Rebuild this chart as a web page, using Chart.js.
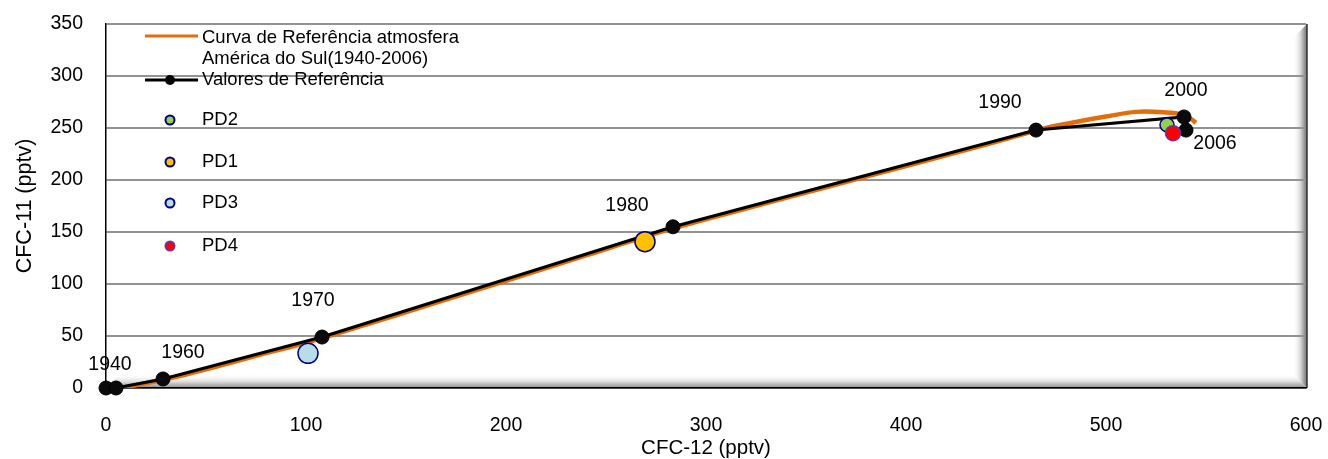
<!DOCTYPE html>
<html>
<head>
<meta charset="utf-8">
<script src="https://cdn.jsdelivr.net/npm/chart.js@4"></script>
<style>
html, body { margin: 0; padding: 0; background: #fff; }
</style>
</head>
<body>
<canvas id="grafico" width="1328" height="459"></canvas>
<script>
// curva de referência da atmosfera (CFC-12 x CFC-11)
const curvaX = [7, 20, 40, 60, 80, 100, 130, 160, 200, 240, 280, 320, 360, 400, 440, 465, 472, 488, 500, 515, 530, 538, 543, 545];
const curvaY = [0, 4.5, 13, 23, 33.5, 43.5, 61, 79, 103, 127.5, 151.5, 172.5, 193, 213.5, 234, 247.5, 251, 257, 261, 265.5, 265, 263, 258, 255];

// valores de referência
const refAnos = ['1940', '', '1960', '1970', '1980', '1990', '2000', '2006'];
const refX = [0, 5, 28.5, 108, 283.5, 465, 539, 540];
const refY = [0, 0, 8.7, 49, 155, 248, 260.6, 248];

// amostras
const amostras = ['PD2', 'PD1', 'PD3', 'PD4'];
const amostrasX = [530.5, 269.5, 101, 533.5];
const amostrasY = [253, 140.7, 33.3, 245];

const corFundo = ['#92D050', '#FFC000', '#B7DEE8', '#FF0000'];
const corBorda = ['#000080', '#000080', '#000080', '#7030A0'];
const raio = [7, 10, 10, 7.5];

// posição dos rótulos dos anos em relação ao ponto (px)
const rotuloDesloc = [[4, -23], [0, 0], [20, -26], [-9, -36], [-46, -21], [-36, -27], [2, -26], [29, 14]];

const pares = (xs, ys) => xs.map((x, i) => ({ x: x, y: ys[i] }));

const datasets = [
    {
        label: ['Curva de Referência atmosfera', 'América do Sul(1940-2006)'],
        data: pares(curvaX, curvaY),
        showLine: true,
        borderColor: '#E46C0A',
        borderWidth: 4.5,
        pointRadius: 0,
        tension: 0.35,
        order: 10
    },
    {
        label: 'Valores de Referência',
        data: pares(refX, refY),
        showLine: true,
        borderColor: '#000',
        borderWidth: 3,
        backgroundColor: '#000',
        pointBackgroundColor: '#0a0a0a',
        pointBorderColor: '#000',
        pointRadius: 7,
        pointBorderWidth: 1,
        clip: false,
        order: 9
    }
];

amostras.forEach((nome, i) => {
    datasets.push({
        label: nome,
        data: [{ x: amostrasX[i], y: amostrasY[i] }],
        showLine: false,
        backgroundColor: corFundo[i],
        borderColor: corBorda[i],
        pointRadius: raio[i],
        pointBorderWidth: 1.5,
        order: 5 - i
    });
});

const molduraPlugin = {
    id: 'moldura',
    beforeDraw(chart) {
        const { ctx, chartArea: a } = chart;
        const L = a.left, T = a.top, R = a.right + 1, B = a.bottom, w = 14;
        ctx.save();
        let g = ctx.createLinearGradient(R - w, 0, R, 0);
        g.addColorStop(0, 'rgba(255,255,255,0)');
        g.addColorStop(0.55, '#d4d4d4');
        g.addColorStop(1, '#6e6e6e');
        ctx.fillStyle = g;
        ctx.beginPath();
        ctx.moveTo(R - w, T + w);
        ctx.lineTo(R, T);
        ctx.lineTo(R, B);
        ctx.lineTo(R - w, B - w);
        ctx.closePath();
        ctx.fill();

        g = ctx.createLinearGradient(0, B - w, 0, B);
        g.addColorStop(0, 'rgba(255,255,255,0)');
        g.addColorStop(0.55, '#dcdcdc');
        g.addColorStop(1, '#8a8a8a');
        ctx.fillStyle = g;
        ctx.beginPath();
        ctx.moveTo(L, B);
        ctx.lineTo(L + w, B - w);
        ctx.lineTo(R - w, B - w);
        ctx.lineTo(R, B);
        ctx.closePath();
        ctx.fill();

        ctx.strokeStyle = '#333';
        ctx.lineWidth = 1.5;
        ctx.beginPath();
        ctx.moveTo(R, T);
        ctx.lineTo(R, B);
        ctx.stroke();
        ctx.restore();
    }
};

const rotulosPlugin = {
    id: 'rotulos',
    afterDatasetsDraw(chart) {
        const ctx = chart.ctx;
        const meta = chart.getDatasetMeta(1);
        ctx.save();
        ctx.font = '19.5px Arial, "Liberation Sans"';
        ctx.fillStyle = '#000';
        ctx.textAlign = 'center';
        ctx.textBaseline = 'middle';
        meta.data.forEach((p, i) => {
            if (!refAnos[i]) return;
            ctx.fillText(refAnos[i], p.x + rotuloDesloc[i][0], p.y + rotuloDesloc[i][1]);
        });
        ctx.restore();
    }
};

const legendaPlugin = {
    id: 'legenda',
    afterDraw(chart) {
        const ctx = chart.ctx;
        const ds = chart.data.datasets;
        const xl = 145, xr = 198, xm = 170, xt = 202;
        ctx.save();
        ctx.font = '18.5px Arial, "Liberation Sans"';
        ctx.fillStyle = '#000';
        ctx.textAlign = 'left';
        ctx.textBaseline = 'middle';

        // curva
        ctx.strokeStyle = ds[0].borderColor;
        ctx.lineWidth = 3;
        ctx.beginPath();
        ctx.moveTo(xl, 36);
        ctx.lineTo(xr, 36);
        ctx.stroke();
        ctx.fillText(ds[0].label[0], xt, 38);
        ctx.fillText(ds[0].label[1], xt, 59);

        // valores de referência
        ctx.strokeStyle = '#000';
        ctx.beginPath();
        ctx.moveTo(xl, 80);
        ctx.lineTo(xr, 80);
        ctx.stroke();
        ctx.fillStyle = '#000';
        ctx.beginPath();
        ctx.arc(xm, 80, 5, 0, Math.PI * 2);
        ctx.fill();
        ctx.fillText(ds[1].label, xt, 80);

        // amostras
        const ys = [120, 162, 203, 246];
        for (let i = 0; i < amostras.length; i++) {
            const d = ds[i + 2];
            ctx.beginPath();
            ctx.arc(xm, ys[i], 4.5, 0, Math.PI * 2);
            ctx.fillStyle = d.backgroundColor;
            ctx.fill();
            ctx.lineWidth = 2;
            ctx.strokeStyle = d.borderColor;
            ctx.stroke();
            ctx.fillStyle = '#000';
            ctx.fillText(d.label, xt, ys[i]);
        }
        ctx.restore();
    }
};

new Chart(document.getElementById('grafico'), {
    type: 'scatter',
    data: { datasets },
    options: {
        responsive: false,
        animation: false,
        layout: { padding: { top: 24, right: 22, left: 0, bottom: 0 } },
        plugins: {
            legend: { display: false },
            tooltip: { enabled: false }
        },
        scales: {
            x: {
                type: 'linear',
                min: 0,
                max: 600,
                ticks: { stepSize: 100, color: '#000', padding: 26, font: { family: 'Arial, "Liberation Sans"', size: 19.5 } },
                grid: { display: false, drawTicks: false },
                border: { display: true, color: '#000', width: 1.5 },
                title: { display: true, text: 'CFC-12 (pptv)', color: '#000', font: { family: 'Arial, "Liberation Sans"', size: 20.5, lineHeight: 1 }, padding: { top: 0, bottom: 0 } },
                afterFit(s) {
                    s.height = 71;
                    s.paddingLeft = 0;
                    s.paddingRight = 0;
                }
            },
            y: {
                min: 0,
                max: 350,
                ticks: { stepSize: 50, color: '#000', padding: 23, font: { family: 'Arial, "Liberation Sans"', size: 19.5 } },
                grid: { color: '#939393', lineWidth: 2, drawTicks: false },
                border: { display: true, color: '#000', width: 1.5 },
                title: { display: true, text: 'CFC-11 (pptv)', color: '#000', font: { family: 'Arial, "Liberation Sans"', size: 21.5, lineHeight: 1 }, padding: { top: 14, bottom: 0 } },
                afterFit(s) {
                    s.width = 106;
                    s.paddingTop = 0;
                    s.paddingBottom = 0;
                }
            }
        }
    },
    plugins: [molduraPlugin, rotulosPlugin, legendaPlugin]
});
</script>
</body>
</html>
